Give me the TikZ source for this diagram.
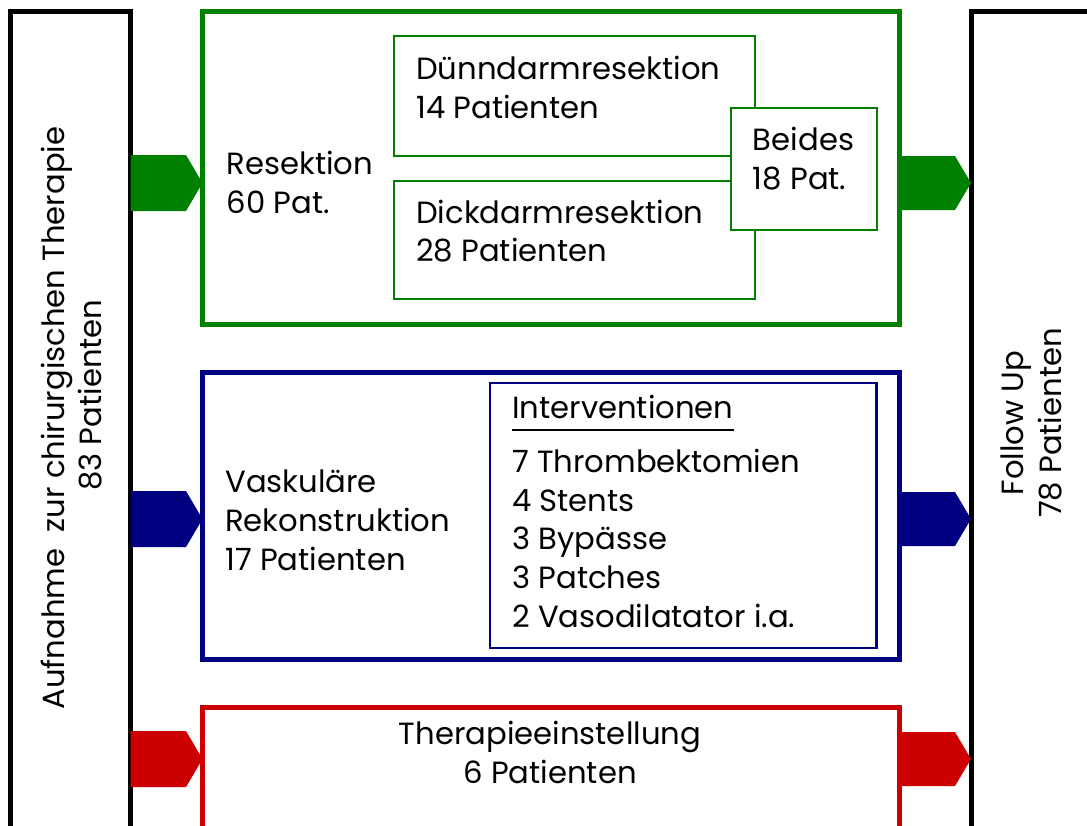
\documentclass[tikz,border=0pt]{standalone}
\usepackage{fontspec}
\setmainfont{Poppins}
\usetikzlibrary{fit}
\definecolor{cgreen}{RGB}{0,128,0}
\definecolor{cblue}{RGB}{0,0,128}
\definecolor{cred}{RGB}{204,0,0}
\newcommand\myul[1]{\setbox0\hbox{#1}\rlap{\rule[-9.6pt]{\wd0}{1.1pt}}\box0}
\begin{document}
\begin{tikzpicture}[x=0.75pt,y=-0.75pt,
  frame/.style={draw, line width=3.75pt, inner sep=0pt, outer sep=0pt},
  subbox/.style={draw=cgreen, line width=1.5pt, inner sep=0pt, outer sep=0pt},
  txt/.style={font=\fontsize{23}{29}\selectfont, inner sep=0pt, align=left, anchor=base west},
  rtxt/.style={font=\fontsize{23}{29}\selectfont, inner sep=0pt, rotate=90, anchor=base}
]
\useasboundingbox (0,0) rectangle (1087,825);
\clip (0,0) rectangle (1087,825);

% side bars
\node[frame, fit={(10.5,11.5) (130.5,900)}] (in) {};
\node[frame, fit={(971,11.5) (1200,900)}] (out) {};

% main boxes
\node[frame, draw=cgreen, fit={(202.5,11.5) (899,324.5)}] (res) {};
\node[frame, draw=cblue, fit={(202.5,372) (899,659.5)}] (vas) {};
\node[frame, draw=cred, fit={(202.5,707.5) (899,900)}] (the) {};

% resection sub boxes
\node[subbox, fit={(394,36) (755,156)}] (duenn) {};
\node[subbox, fit={(394,181) (755,299)}] (dick) {};
\node[subbox, fill=white, fit={(731,108) (876.5,230)}] (beides) {};
\node[draw=cblue, line width=1.9pt, inner sep=0pt, outer sep=0pt, fit={(490,383) (876.5,648)}] (interv) {};

% arrows
\foreach \yc/\col in {183/cgreen, 519/cblue, 759/cred}{
  \fill[\col] (in.east |- 0,\yc-28) -- (186,\yc-28) -- (res.west |- 0,\yc) -- (186,\yc+28) -- (in.east |- 0,\yc+28) -- cycle;
  \fill[\col] (res.east |- 0,\yc-27) -- (955,\yc-27) -- (out.west |- 0,\yc) -- (955,\yc+27) -- (res.east |- 0,\yc+27) -- cycle;
}

% texts
\node[rtxt] (inA) at (64,418) {Aufnahme\ \ zur chirurgischen Therapie};
\node[rtxt] (inB) at (101.7,395) {83 Patienten};
\node[rtxt] (outA) at (1023,423) {Follow Up};
\node[rtxt] (outB) at (1061.7,423) {78 Patienten};

\node[txt] (resT) at (226.5,213.3) {Resektion\\60 Pat.};
\node[txt] (duennT) at (416,118) {Dünndarmresektion\\14 Patienten};
\node[txt] (dickT) at (416,261.7) {Dickdarmresektion\\28 Patienten};
\node[txt] (beidesT) at (752.7,189) {Beides\\18 Pat.};
\node[txt] (vasT) at (225,570) {Vaskuläre\\Rekonstruktion\\17 Patienten};
\node[txt] (intT) at (512,418) {\myul{Interventionen}};
\node[txt] (intL) at (512,627) {7 Thrombektomien\\4 Stents\\3 Bypässe\\3 Patches\\2 Vasodilatator i.a.};
\node[txt, align=center, anchor=base] (theT) at (550,783.5) {Therapieeinstellung\\6 Patienten};
\end{tikzpicture}
\end{document}
